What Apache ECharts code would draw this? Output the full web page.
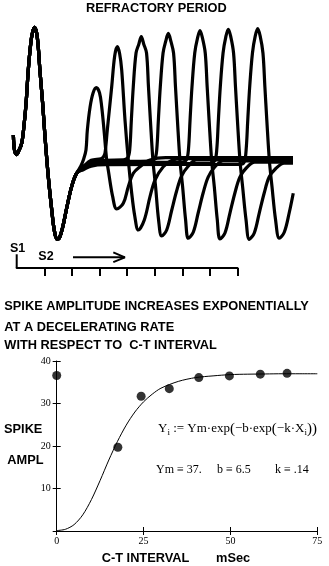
<!DOCTYPE html>
<html>
<head>
<meta charset="utf-8">
<script src="https://cdn.jsdelivr.net/npm/echarts@6/dist/echarts.min.js"></script>
<style>
  html, body { margin: 0; padding: 0; background: #fff; }
  #chart { width: 329px; height: 566px; }
</style>
</head>
<body>
<div id="chart"></div>
<script>
// ---------- Refractory period recording ----------
// time in ms after S1, amplitude in arbitrary units (0 = baseline)
const s1Response = [[-1.2,17.3],[-0.8,7.3],[0,4.3],[0.6,6.2],[1.8,11.8],[2.6,22.9],[3.4,38.5],[4.2,60.7],[5.1,78.5],[5.8,86.2],[6.5,89.1],[7.25,85.1],[7.8,76.2],[8.4,60.7],[9.4,38.5],[10.25,16.2],[11.45,-10.5],[12.7,-32.7],[13.6,-46],[14.6,-52],[15.4,-51.5],[16.7,-43.8],[18.1,-31.5],[19.9,-17.1],[21.7,-8.2]];

// one sweep per S2 coupling interval, each continuing from the S1 response
const sweep1 = [[21.7,-8.2],[23.2,-3.5],[24.3,1.5],[25.1,7.3],[25.6,20.7],[26.6,36.2],[27.7,45.5],[28.84,48.9],[30.0,45.5],[30.8,36.2],[31.63,20.7],[32.6,0.7],[33.17,-6],[34.78,-23.8],[36.23,-32],[38.62,-28.2],[40.43,-17.1],[42.25,-8.2],[44.67,-3.8],[48.3,0.6],[54,2.2],[100.1,2.2]];
const sweep2 = [[21.7,-8.2],[24.1,-3.8],[27,0.5],[30.5,1.5],[31.4,2.7],[32.0,5.3],[32.83,20.7],[34.42,49.5],[35.5,70],[36.45,76.2],[37.3,71.5],[38.04,60.7],[39.24,27.3],[40.43,0.7],[41.67,-21.5],[42.8,-37],[44.06,-46],[46.23,-39.3],[48.3,-23.8],[50.1,-12.7],[53.1,-3.8],[56.3,0.5],[60,1.5],[100.1,1.5]];
const sweep3 = [[21.7,-8.2],[24.1,-3.8],[27,-0.5],[32,0.5],[38.64,0.7],[40.24,2.2],[40.94,7.3],[41.54,27.3],[42.24,49.5],[43.24,72],[44.24,77.9],[45.14,82.9],[46.04,77.9],[47.04,72],[47.74,49.5],[48.44,27.3],[49.38,0],[50.32,-17.1],[51.41,-39.3],[52.54,-50],[54.34,-46],[56.14,-33],[57.94,-20],[59.74,-10],[62.14,-3.5],[65.14,0.7],[100.1,0.7]];
const sweep4 = [[21.7,-8.2],[24.1,-3.8],[27,-1],[32,-0.3],[48.43,0],[50.03,1.5],[50.73,7.3],[51.33,27.3],[52.03,49.5],[53.03,72],[54.03,80.1],[54.93,85.1],[55.83,80.1],[56.83,72],[57.53,49.5],[58.23,27.3],[59.17,0],[60.11,-17.1],[61.2,-39.3],[62.17,-51.5],[63.97,-47.5],[65.77,-34.5],[67.57,-21.2],[69.37,-10.7],[71.77,-4],[74.77,0],[100.1,0]];
const sweep5 = [[21.7,-8.2],[24.1,-4.5],[27,-1.8],[32,-1],[59.91,-0.7],[61.51,0.8],[62.21,7.3],[62.81,27.3],[63.51,49.5],[64.51,72],[65.51,81.9],[66.41,86.9],[67.31,81.9],[68.31,72],[69.01,49.5],[69.71,27.3],[70.65,0],[71.59,-17.1],[72.68,-39.3],[73.66,-52],[75.46,-48],[77.26,-34.7],[79.06,-21.3],[80.86,-10.7],[83.26,-4.5],[86.26,-0.7],[100.1,-0.7]];
const sweep6 = [[21.7,-8.2],[24.1,-5.2],[27,-2.7],[32,-1.8],[70.17,-1.5],[71.77,0.3],[72.47,7.3],[73.07,27.3],[73.77,49.5],[74.77,72],[75.77,82.8],[76.67,87.8],[77.57,82.8],[78.57,72],[79.27,49.5],[79.97,27.3],[80.91,0],[81.85,-17.1],[83.1,-39.3],[84.28,-52.2],[86.08,-48],[87.88,-34.7],[89.68,-21.3],[91.48,-10.7],[93.88,-5],[96.88,-1.5],[100.1,-1.5]];
const sweep7 = [[21.7,-8.2],[24.1,-5.8],[27,-3.4],[32,-2.5],[80.82,-2.2],[82.42,-0.7],[83.12,7.3],[83.72,27.3],[84.42,49.5],[85.42,72],[86.42,83.2],[87.32,88.2],[88.22,83.2],[89.22,72],[89.92,49.5],[90.62,27.3],[91.56,0],[92.5,-17.1],[93.8,-39.3],[95.14,-51.5],[96.94,-47.5],[98.74,-34.5],[100.2,-21.5]];
const sweeps = [sweep1, sweep2, sweep3, sweep4, sweep5, sweep6, sweep7];

// time ruler under the traces (ms)
const rulerTicks = [10, 20, 30, 40, 50, 60, 70, 80];
const s1Marker = [[0, 0], [0, 0.98]];
const s2ArrowShaft = [[20.4, 0.76], [39.2, 0.76]];
const s2ArrowHead = [[35.0, 1.12], [39.2, 0.76], [35.0, 0.42]];

// ---------- Spike amplitude vs C-T interval ----------
const ctInterval = [0, 17.6, 24.3, 32.4, 40.9, 49.7, 58.6, 66.3];
const spikeAmpl  = [36.6, 19.7, 31.7, 33.5, 36.1, 36.5, 36.9, 37.1];
const fitX = [0, 2.5, 5, 7.5, 10, 12.5, 15, 17.5, 20, 22.5, 25, 27.5, 30, 35, 40, 45, 50, 55, 60, 65, 70, 75];
const fitY = [0.1, 0.4, 1.5, 3.8, 7.4, 11.9, 16.7, 21.1, 24.9, 28.0, 30.4, 32.2, 33.6, 35.2, 36.1, 36.5, 36.8, 36.9, 36.95, 37.0, 37.0, 37.0];
const xTicks = [0, 25, 50, 75];
const yTicks = [0, 10, 20, 30, 40];

const BOLD = 'bold 12.8px "Liberation Sans", Arial, sans-serif';
const SERIF = '"Liberation Serif", "Times New Roman", serif';

const chart = echarts.init(document.getElementById('chart'), null, { renderer: 'canvas' });

const traceSeries = sweeps.map(sw => ({
  type: 'line', xAxisIndex: 0, yAxisIndex: 0,
  data: s1Response.slice(0, -1).concat(sw),
  smooth: 0.35, showSymbol: false, silent: true,
  lineStyle: { color: '#000', width: 3.2 }
}));

function rulerLine(data, w) {
  return {
    type: 'line', xAxisIndex: 1, yAxisIndex: 1, data: data,
    showSymbol: false, silent: true, clip: false,
    lineStyle: { color: '#000', width: w }
  };
}

function txt(text, x, y, font, extra) {
  return {
    type: 'text', x: x, y: y, silent: true,
    style: Object.assign({ text: text, font: font, fill: '#000', align: 'left', verticalAlign: 'middle' }, extra || {})
  };
}

chart.setOption({
  animation: false,
  backgroundColor: '#fff',
  grid: [
    { left: 11.18, width: 287.04, top: 20, height: 225 },
    { left: 16.7, width: 220.8, top: 247, height: 21 },
    { left: 56.7, width: 260.6, top: 361, height: 170 }
  ],
  xAxis: [
    { gridIndex: 0, type: 'value', min: -2, max: 102, show: false },
    { gridIndex: 1, type: 'value', min: 0, max: 80, interval: 10,
      axisLine: { show: true, lineStyle: { color: '#000', width: 2 } },
      axisTick: { show: true, length: 8, customValues: rulerTicks, lineStyle: { color: '#000', width: 2 } },
      axisLabel: { show: false }, splitLine: { show: false } },
    { gridIndex: 2, type: 'value', min: 0, max: 75, interval: 25,
      axisLine: { show: true, onZero: false, lineStyle: { color: '#000', width: 1 } },
      axisTick: { show: true, length: 4, customValues: xTicks, lineStyle: { color: '#000' } },
      axisLabel: { color: '#000', fontFamily: SERIF, fontSize: 10, margin: 5, customValues: xTicks },
      splitLine: { show: false } },
    { gridIndex: 2, type: 'value', min: 0, max: 75, interval: 25, position: 'bottom',
      axisLine: { show: false },
      axisTick: { show: true, inside: true, length: 4, customValues: xTicks, lineStyle: { color: '#000' } },
      axisLabel: { show: false }, splitLine: { show: false } }
  ],
  yAxis: [
    { gridIndex: 0, type: 'value', min: -56, max: 94, show: false },
    { gridIndex: 1, type: 'value', min: 0, max: 1.5, show: false },
    { gridIndex: 2, type: 'value', min: 0, max: 40, interval: 10,
      axisLine: { show: true, onZero: false, lineStyle: { color: '#000', width: 1 } },
      axisTick: { show: true, length: 4, customValues: yTicks, lineStyle: { color: '#000' } },
      axisLabel: { color: '#000', fontFamily: SERIF, fontSize: 10, margin: 6, customValues: [10, 20, 30, 40] },
      splitLine: { show: false } },
    { gridIndex: 2, type: 'value', min: 0, max: 40, interval: 10, position: 'left',
      axisLine: { show: false },
      axisTick: { show: true, inside: true, length: 4, customValues: yTicks, lineStyle: { color: '#000' } },
      axisLabel: { show: false }, splitLine: { show: false } }
  ],
  series: traceSeries.concat([
    rulerLine(s1Marker, 2),
    rulerLine(s2ArrowShaft, 2),
    rulerLine(s2ArrowHead, 2),
    {
      type: 'line', xAxisIndex: 2, yAxisIndex: 2,
      data: fitX.map((x, i) => [x, fitY[i]]),
      smooth: 0.3, showSymbol: false, silent: true,
      lineStyle: { color: '#000', width: 1 }
    },
    {
      type: 'scatter', xAxisIndex: 2, yAxisIndex: 2,
      data: ctInterval.map((x, i) => [x, spikeAmpl[i]]),
      symbolSize: 9, silent: true, clip: false,
      itemStyle: { color: '#000' }
    }
  ]),
  graphic: [
    txt('REFRACTORY PERIOD', 86, 8.5, BOLD),
    txt('S1', 10, 249, 'bold 12.5px "Liberation Sans", Arial, sans-serif'),
    txt('S2', 38.3, 256.7, 'bold 12.5px "Liberation Sans", Arial, sans-serif'),
    txt('SPIKE AMPLITUDE INCREASES EXPONENTIALLY', 4.3, 306, BOLD),
    txt('AT A DECELERATING RATE', 4.3, 327, BOLD),
    txt('WITH RESPECT TO  C-T INTERVAL', 4.3, 345.7, BOLD),
    txt('SPIKE', 4, 429.3, BOLD),
    txt('AMPL', 7.3, 460, BOLD),
    {
      type: 'text', x: 158, y: 429, silent: true,
      style: {
        text: '{a|Y}{s|i}{a| := Ym·exp}{p|(}{a|−b·exp}{p|(}{a|−k·X}{s|i}{p|))}',
        fill: '#000', align: 'left', verticalAlign: 'middle',
        rich: {
          a: { font: '13px ' + SERIF, fill: '#000', lineHeight: 18 },
          p: { font: '15px ' + SERIF, fill: '#000', lineHeight: 18 },
          s: { font: '9px ' + SERIF, fill: '#000', lineHeight: 18, padding: [7, 0, 0, 0] }
        }
      }
    },
    txt('Ym ≡ 37.', 156, 469.5, '12px ' + SERIF),
    txt('b ≡ 6.5', 217, 469.5, '12px ' + SERIF),
    txt('k ≡ .14', 275, 469.5, '12px ' + SERIF),
    txt('C-T INTERVAL', 101.7, 558.3, BOLD),
    txt('mSec', 216, 558.3, BOLD)
  ]
});
</script>
</body>
</html>
